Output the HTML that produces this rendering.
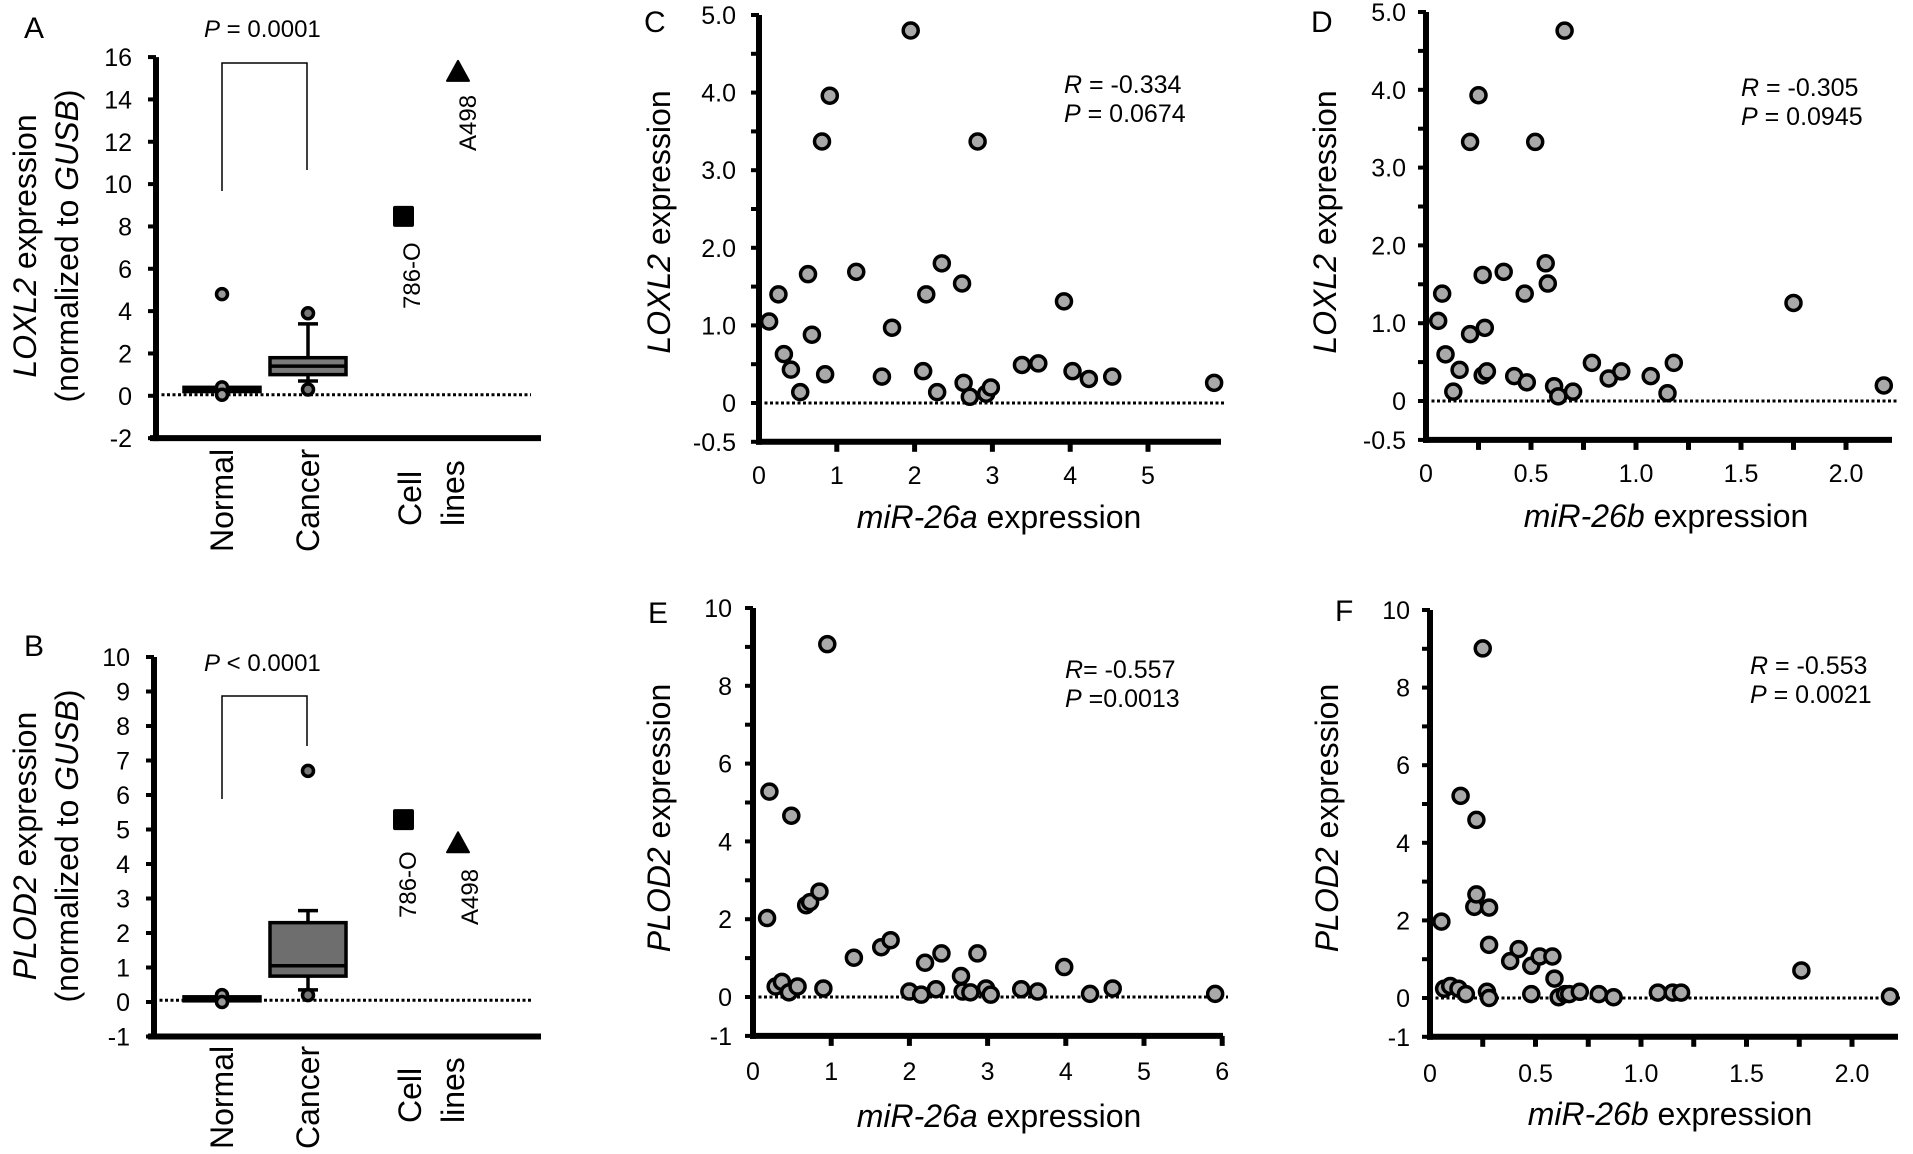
<!DOCTYPE html>
<html><head><meta charset="utf-8"><style>
html,body{margin:0;padding:0;background:#fff;}
svg{display:block;font-family:"Liberation Sans",Arial,sans-serif;}
</style></head><body>
<svg id="fig" width="1913" height="1154" viewBox="0 0 1913 1154" xmlns="http://www.w3.org/2000/svg"></svg>
<script>
// ---- data ----
const cX=[.13,.25,.32,.41,.53,.63,.68,.81,.85,.91,1.25,1.58,1.71,1.95,2.11,2.15,2.29,2.35,2.61,2.63,2.71,2.81,2.92,2.98,3.38,3.59,3.92,4.03,4.24,4.54,5.85];
const cY=[1.05,1.40,.63,.43,.14,1.66,.88,3.37,.37,3.96,1.69,.34,.97,4.80,.41,1.40,.14,1.80,1.54,.26,.08,3.37,.12,.20,.49,.51,1.31,.41,.31,.34,.26];
const dX=[.058,.077,.093,.13,.16,.21,.21,.25,.27,.27,.28,.29,.37,.42,.47,.48,.52,.57,.58,.61,.63,.66,.70,.79,.87,.93,1.07,1.15,1.18,1.75,2.18];
const dY=[1.03,1.38,.60,.12,.40,3.33,.86,3.93,1.62,.33,.94,.38,1.66,.32,1.38,.24,3.33,1.77,1.51,.19,.06,4.76,.12,.49,.29,.38,.32,.10,.49,1.26,.20];
const eX=[.18,.21,.29,.37,.46,.49,.57,.68,.73,.85,.90,.95,1.29,1.64,1.76,2.0,2.15,2.2,2.34,2.41,2.66,2.68,2.78,2.87,2.98,3.04,3.43,3.64,3.98,4.31,4.6,5.91];
const eY=[2.03,5.28,.27,.39,.12,4.66,.27,2.36,2.44,2.71,.22,9.07,1.01,1.28,1.46,.14,.06,.88,.2,1.12,.54,.14,.12,1.12,.22,.06,.2,.14,.77,.08,.22,.08];
const fX=[.054,.067,.096,.135,.145,.17,.21,.22,.22,.25,.27,.28,.28,.28,.38,.42,.48,.48,.52,.58,.59,.61,.64,.66,.71,.80,.87,1.08,1.15,1.19,1.76,2.18];
const fY=[1.97,.24,.31,.24,5.21,.1,2.35,2.67,4.59,9.01,.16,2.33,1.37,0,.95,1.26,.83,.1,1.07,1.07,.5,.02,.1,.1,.16,.1,.02,.14,.14,.14,.71,.04];
const aNormalBox=[0.2,0.2,0.3,0.4,0.4];
const aCancerBox=[0.7,1.0,1.4,1.8,3.4];
const aNormalPts=[4.8,0.4,0.05];
const aCancerPts=[3.9,0.3];
const aCellLines=[8.5,15.3];
const bNormalBox=[0.05,0.05,0.1,0.15,0.15];
const bCancerBox=[0.35,0.75,1.05,2.3,2.65];
const bNormalPts=[0.2,0.0];
const bCancerPts=[6.7,0.2];
const bCellLines=[5.3,4.6];
const cellNames=["786-O","A498"];
const catNames=["Normal","Cancer"];

const NS="http://www.w3.org/2000/svg";
const svg=document.getElementById('fig');
function mk(tag,attrs,parent){const e=document.createElementNS(NS,tag);for(const k in attrs)e.setAttribute(k,attrs[k]);(parent||svg).appendChild(e);return e;}
function lin(d0,d1,r0,r1){return v=>r0+(v-d0)*(r1-r0)/(d1-d0);}
function txt(x,y,html,size,anchor,rot,name){
  const t=mk('text',{x:x,y:y,'font-size':size,'text-anchor':anchor||'start'});
  if(rot)t.setAttribute('transform','rotate(-90 '+x+' '+y+')');
  t.innerHTML=html;
  
  
  return t;
}
function line(x1,y1,x2,y2,w,name,dash){
  const l=mk('line',{x1:x1,y1:y1,x2:x2,y2:y2,stroke:'#000','stroke-width':w});
  if(dash)l.setAttribute('stroke-dasharray',dash);
  
  
  return l;
}

// ---- scatter panels ----
function scatter(p){
  const xs=lin(0,1,p.x0,p.x0+p.xu), ys=lin(0,1,p.y0,p.y0-p.yu);
  const yb=ys(p.ymin), yt=ys(p.ymax);
  line(p.x0,yt,p.x0,yb+3,6,'y-axis-'+p.id);
  line(p.x0-3,yb,p.xend,yb,6,'x-axis-'+p.id);
  for(let v=p.ymin;v<=p.ymax+1e-9;v+=p.ystep){line(p.x0-8,ys(v),p.x0,ys(v),4,'y-tick');}
  p.ylab.forEach((s,i)=>{txt(p.ylabX,ys(p.ylabV[i])+9,s,25,'end',false,'y-tick-label');});
  for(let v=p.xstep;v<=p.xmax+1e-9;v+=p.xstep){line(xs(v),yb,xs(v),yb+10,5,'x-tick');}
  p.xlab.forEach((s,i)=>{txt(xs(p.xlabV[i]),p.xlabY,s,25,'middle',false,'x-tick-label');});
  line(p.x0,ys(0),p.dotEnd,ys(0),3,'zero-line-'+p.id,'3,2.5');
  p.X.forEach((xv,i)=>{
    const c=mk('circle',{cx:xs(xv),cy:ys(p.Y[i]),r:7.5,fill:'#a9a9a9',stroke:'#000','stroke-width':3.5});
    
    
  });
  txt(p.ttlX,p.ttlY,'<tspan font-style="italic">'+p.xt+'</tspan> expression',32,'middle',false,'x-axis-title');
  txt(p.ytX,p.ytY,'<tspan font-style="italic">'+p.yt+'</tspan> expression',32,'middle',true,'y-axis-title');
  txt(p.sX,p.sY1,p.s1,25,'start',false,'r-value');
  txt(p.sX,p.sY1+29,p.s2,25,'start',false,'p-value');
  txt(p.lx,p.ly,p.id.toUpperCase(),30,'start',false,'panel-label');
}
scatter({id:'c',X:cX,Y:cY,x0:759,xu:77.8,y0:403,yu:77.6,ymin:-0.5,ymax:5,ystep:.5,
  ylab:['5.0','4.0','3.0','2.0','1.0','0','-0.5'],ylabV:[5,4,3,2,1,0,-0.5],ylabX:736,
  xstep:1,xmax:5,xlab:['0','1','2','3','4','5'],xlabV:[0,1,2,3,4,5],xlabY:484,xend:1221,dotEnd:1226,
  xt:'miR-26a',yt:'LOXL2',ttlX:999,ttlY:528,ytX:670,ytY:222,
  sX:1064,sY1:93,s1:'<tspan font-style="italic">R</tspan> = -0.334',s2:'<tspan font-style="italic">P</tspan> = 0.0674',lx:644,ly:32});
scatter({id:'d',X:dX,Y:dY,x0:1426,xu:210,y0:401,yu:77.8,ymin:-0.5,ymax:5,ystep:.5,
  ylab:['5.0','4.0','3.0','2.0','1.0','0','-0.5'],ylabV:[5,4,3,2,1,0,-0.5],ylabX:1406,
  xstep:.25,xmax:2.0,xlab:['0','0.5','1.0','1.5','2.0'],xlabV:[0,.5,1,1.5,2],xlabY:482,xend:1892,dotEnd:1898,
  xt:'miR-26b',yt:'LOXL2',ttlX:1666,ttlY:527,ytX:1336,ytY:222,
  sX:1741,sY1:96,s1:'<tspan font-style="italic">R</tspan> = -0.305',s2:'<tspan font-style="italic">P</tspan> = 0.0945',lx:1311,ly:32});
scatter({id:'e',X:eX,Y:eY,x0:753,xu:78.2,y0:997,yu:38.9,ymin:-1,ymax:10,ystep:1,
  ylab:['10','8','6','4','2','0','-1'],ylabV:[10,8,6,4,2,0,-1],ylabX:732,
  xstep:1,xmax:6,xlab:['0','1','2','3','4','5','6'],xlabV:[0,1,2,3,4,5,6],xlabY:1080,xend:1223,dotEnd:1228,
  xt:'miR-26a',yt:'PLOD2',ttlX:999,ttlY:1127,ytX:670,ytY:818,
  sX:1065,sY1:678,s1:'<tspan font-style="italic">R</tspan>= -0.557',s2:'<tspan font-style="italic">P</tspan> =0.0013',lx:648,ly:623});
scatter({id:'f',X:fX,Y:fY,x0:1430,xu:211,y0:998,yu:38.8,ymin:-1,ymax:10,ystep:1,
  ylab:['10','8','6','4','2','0','-1'],ylabV:[10,8,6,4,2,0,-1],ylabX:1410,
  xstep:.25,xmax:2.0,xlab:['0','0.5','1.0','1.5','2.0'],xlabV:[0,.5,1,1.5,2],xlabY:1082,xend:1898,dotEnd:1900,
  xt:'miR-26b',yt:'PLOD2',ttlX:1670,ttlY:1125,ytX:1338,ytY:818,
  sX:1750,sY1:674,s1:'<tspan font-style="italic">R</tspan> = -0.553',s2:'<tspan font-style="italic">P</tspan> = 0.0021',lx:1335,ly:621});

// ---- box panels ----
function boxPanel(p){
  const ys=lin(0,1,p.y0,p.y0-p.yu);
  const yb=ys(p.ymin), yt=ys(p.ymax);
  line(p.ax,yt,p.ax,yb+3,6,'y-axis-'+p.id);
  line(p.ax-6,yb,541,yb,6,'x-axis-'+p.id);
  for(let v=p.ymin;v<=p.ymax+1e-9;v+=p.ystep){line(p.ax-8,ys(v),p.ax,ys(v),4,'y-tick');}
  p.ylabV.forEach(v=>{txt(p.ax-24,ys(v)+9,String(v),25,'end',false,'y-tick-label');});
  line(p.ax,ys(p.dotV),531,ys(p.dotV),3,'zero-line-'+p.id,'3,2.5');
  const cx=[222,308];
  [p.nBox,p.cBox].forEach((b,i)=>{
    const x=cx[i];
    if(b[4]>b[3]){line(x,ys(b[3]),x,ys(b[4]),3.5,'whisker');line(x-10,ys(b[4]),x+10,ys(b[4]),3.5,'whisker-cap');}
    if(b[0]<b[1]){line(x,ys(b[1]),x,ys(b[0]),3.5,'whisker');line(x-10,ys(b[0]),x+10,ys(b[0]),3.5,'whisker-cap');}
    const h=Math.max(ys(b[1])-ys(b[3]),4);
    const r=mk('rect',{x:x-38,y:ys(b[3]),width:76,height:h,fill:i?p.fill:'#333',stroke:'#000','stroke-width':3.5});
    
    
    line(x-38,ys(b[2]),x+38,ys(b[2]),3.5,'median');
  });
  [p.nPts,p.cPts].forEach((pts,i)=>{pts.forEach(v=>{
    const c=mk('circle',{cx:cx[i],cy:ys(v),r:5.5,fill:i?'#777':'#999',stroke:'#000','stroke-width':3.5});
    
    
  });});
  const sq=mk('rect',{x:393,y:ys(p.cells[0])-10,width:21,height:21,rx:2,fill:'#000'});
  
  
  const ty=ys(p.cells[1]);
  const tri=mk('polygon',{points:(458)+','+(ty-11)+' '+(469)+','+(ty+9)+' '+(447)+','+(ty+9),fill:'#000',stroke:'#000','stroke-width':2,'stroke-linejoin':'round'});
  
  
  txt(p.l1x,p.l1y,cellNames[0],24,'start',true,'label-786-o');
  txt(p.l2x,p.l2y,cellNames[1],24,'start',true,'label-a498');
  const br=mk('polyline',{points:'222,'+p.bl+' 222,'+p.bt+' 307,'+p.bt+' 307,'+p.br,fill:'none',stroke:'#000','stroke-width':1.5});
  
  
  txt(204,p.pY,p.pTxt,24,'start',false,'p-value');
  txt(233,p.catBot,'Normal',32,'start',true,'category-normal');
  txt(319,p.catBot,'Cancer',32,'start',true,'category-cancer');
  txt(421,p.cellBot,'Cell',32,'start',true,'category-cell');
  txt(464,p.cellBot,'lines',32,'start',true,'category-lines');
  txt(36,p.ytY,'<tspan font-style="italic">'+p.gene+'</tspan> expression',32,'middle',true,'y-axis-title');
  txt(78,p.ytY,'(normalized to <tspan font-style="italic">GUSB</tspan>)',32,'middle',true,'y-axis-title-line2');
  txt(24,p.ly,p.id.toUpperCase(),30,'start',false,'panel-label');
}
boxPanel({id:'a',ax:156,y0:395.8,yu:21.17,ymin:-2,ymax:16,ystep:2,ylabV:[16,14,12,10,8,6,4,2,0,-2],dotV:0.05,fill:'#7a7a7a',
  nBox:aNormalBox,cBox:aCancerBox,nPts:aNormalPts,cPts:aCancerPts,cells:aCellLines,
  l1x:420,l1y:309,l2x:476,l2y:151,bl:191,bt:63,br:170,pY:37,pTxt:'<tspan font-style="italic">P</tspan> = 0.0001',
  catBot:552,cellBot:526,gene:'LOXL2',ytY:246,ly:38});
boxPanel({id:'b',ax:154,y0:1002,yu:34.5,ymin:-1,ymax:10,ystep:1,ylabV:[10,9,8,7,6,5,4,3,2,1,0,-1],dotV:0.05,fill:'#6e6e6e',
  nBox:bNormalBox,cBox:bCancerBox,nPts:bNormalPts,cPts:bCancerPts,cells:bCellLines,
  l1x:416,l1y:918,l2x:478,l2y:925,bl:799,bt:696,br:746,pY:671,pTxt:'<tspan font-style="italic">P</tspan> &lt; 0.0001',
  catBot:1149,cellBot:1123,gene:'PLOD2',ytY:846,ly:656});
</script>
</body></html>
